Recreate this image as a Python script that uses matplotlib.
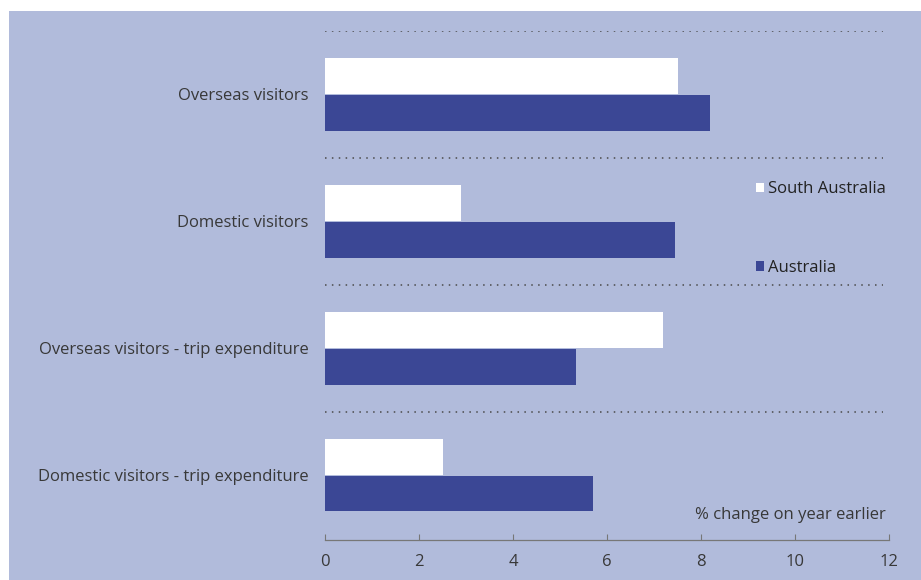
import matplotlib.pyplot as plt
from matplotlib.patches import Patch, Rectangle

categories = ['Overseas visitors', 'Domestic visitors',
              'Overseas visitors - trip expenditure',
              'Domestic visitors - trip expenditure']
south_australia = [7.5, 2.9, 7.2, 2.5]
australia = [8.2, 7.45, 5.35, 5.7]
xticks = [0, 2, 4, 6, 8, 10, 12]

bg = '#b1bbdb'
navy = '#3b4795'
txt = '#383838'

plt.rcParams['font.family'] = ['Open Sans', 'DejaVu Sans']

fig = plt.figure(figsize=(9.21, 5.8), dpi=100)
fig.patch.set_facecolor('white')
# shaded panel behind everything
fig.patches.append(Rectangle((9 / 921, 0), 1, 1 - 11 / 580, transform=fig.transFigure,
                             facecolor=bg, edgecolor='none', zorder=-5))

ax = fig.add_axes([325 / 921, 40 / 580, 564 / 921, 509 / 580])
ax.patch.set_visible(False)

pos = list(range(len(categories)))
h = 0.28
ax.barh([p - h / 2 - 0.005 for p in pos], south_australia, height=h, color='white', zorder=3)
ax.barh([p + h / 2 + 0.005 for p in pos], australia, height=h, color=navy, zorder=3)

# dotted separators between groups
for p in pos:
    ax.hlines(p - 0.5, 0, 11.88, colors='#4a4a4a', linestyles=(0, (1, 3.5)), linewidth=1.1)

ax.set_ylim(3.51, -0.5)
ax.set_xlim(0, 12)
ax.set_xticks(xticks)
ax.set_xticklabels([str(t) for t in xticks], fontsize=12, color=txt)
ax.set_yticks(pos)
ax.set_yticklabels(categories, fontsize=12, color=txt)
ax.tick_params(axis='y', length=0, pad=12)
ax.tick_params(axis='x', direction='in', length=4, color='#777777', pad=10)

for s in ['top', 'right', 'left']:
    ax.spines[s].set_visible(False)
ax.spines['bottom'].set_color('#777777')
ax.spines['bottom'].set_linewidth(0.9)

ax.text(11.94, 3.31, '% change on year earlier', ha='right', va='center',
        fontsize=12, color=txt)

handles = [Patch(facecolor='white', edgecolor='none', label='South Australia'),
           Patch(facecolor=navy, edgecolor='none', label='Australia')]
leg = ax.legend(handles=handles, loc='upper left', bbox_to_anchor=(0.7376, 0.734),
                frameon=False, handlelength=0.48, handleheight=0.48, handletextpad=0.22,
                labelspacing=3.75, fontsize=12)
for t in leg.get_texts():
    t.set_color('#222222')

fig.savefig('out.png', dpi=100, facecolor=fig.get_facecolor())
